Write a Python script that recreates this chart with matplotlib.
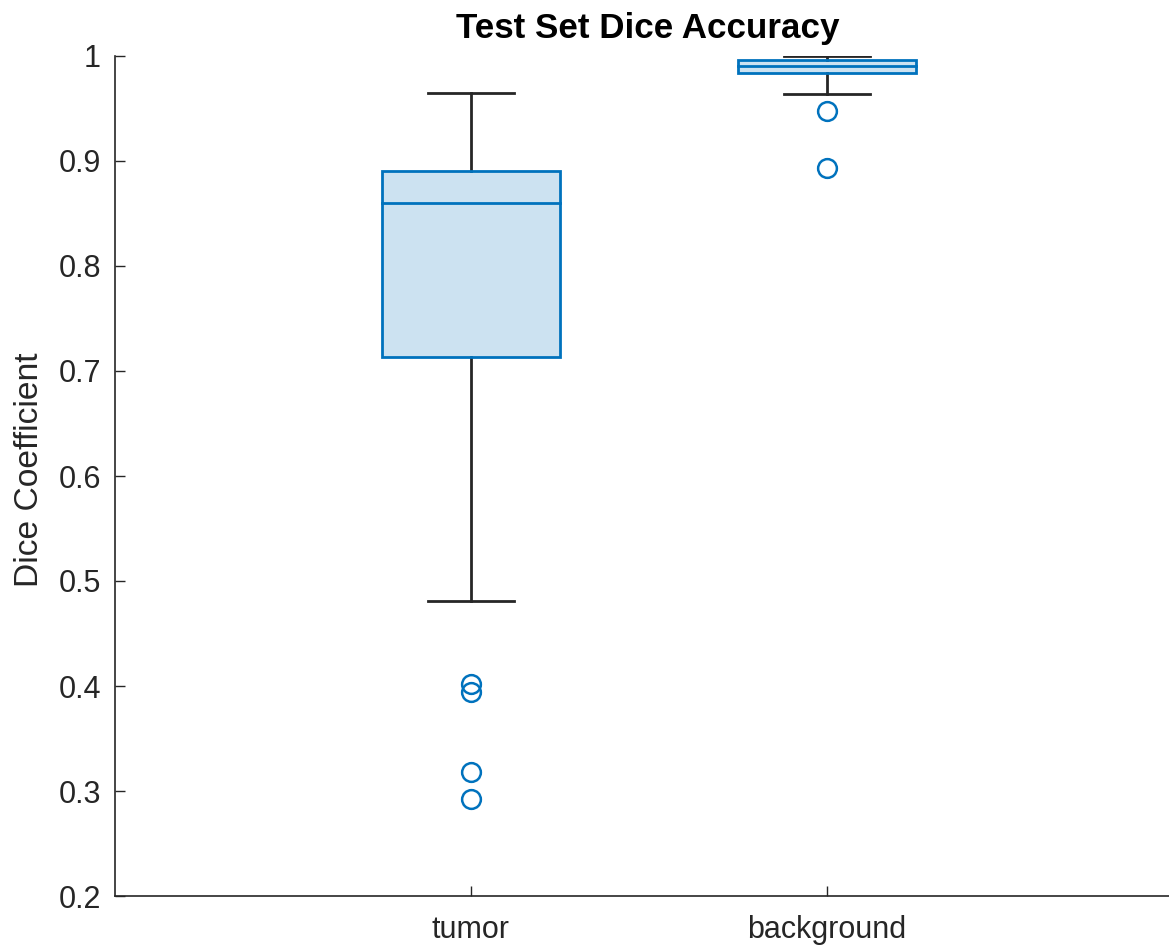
import matplotlib
matplotlib.use("Agg")
import matplotlib.pyplot as plt
from matplotlib.patches import Rectangle

plt.rcParams['font.family'] = ['Liberation Sans', 'DejaVu Sans']

categories = ["tumor", "background"]
# five-number summaries: lower whisker, Q1, median, Q3, upper whisker
lower_whisker = [0.481, 0.964]
q1 = [0.713, 0.984]
median = [0.860, 0.990]
q3 = [0.890, 0.996]
upper_whisker = [0.965, 1.000]
outliers = [[0.402, 0.394, 0.318, 0.292], [0.948, 0.893]]

y_ticks = [0.2, 0.3, 0.4, 0.5, 0.6, 0.7, 0.8, 0.9, 1.0]
y_tick_labels = ["0.2", "0.3", "0.4", "0.5", "0.6", "0.7", "0.8", "0.9", "1"]

blue = "#0072BD"
dark = "#262626"

fig = plt.figure(figsize=(11.69, 9.46), dpi=100)
ax = fig.add_axes([115 / 1169, 50 / 946, (1183 - 115) / 1169, (896 - 56) / 946])

box_w = 0.5
cap_w = 0.24
for i, cat in enumerate(categories):
    x = i + 1
    # whiskers and caps
    ax.plot([x, x], [q3[i], upper_whisker[i]], color=dark, lw=2, zorder=2)
    ax.plot([x, x], [lower_whisker[i], q1[i]], color=dark, lw=2, zorder=2)
    ax.plot([x - cap_w / 2, x + cap_w / 2], [upper_whisker[i]] * 2, color=dark, lw=2, zorder=2)
    ax.plot([x - cap_w / 2, x + cap_w / 2], [lower_whisker[i]] * 2, color=dark, lw=2, zorder=2)
    # box
    ax.add_patch(Rectangle((x - box_w / 2, q1[i]), box_w, q3[i] - q1[i],
                           facecolor=blue, alpha=0.2, edgecolor="none", zorder=3))
    ax.add_patch(Rectangle((x - box_w / 2, q1[i]), box_w, q3[i] - q1[i],
                           facecolor="none", edgecolor=blue, lw=2, zorder=4))
    ax.plot([x - box_w / 2, x + box_w / 2], [median[i]] * 2, color=blue, lw=2, zorder=4)
    # outliers
    ax.plot([x] * len(outliers[i]), outliers[i], linestyle="none", marker="o",
            markersize=13.5, markerfacecolor="none", markeredgecolor=blue,
            markeredgewidth=1.8, zorder=5)

ax.set_xlim(0, 3)
ax.set_ylim(0.2, 1.0)
ax.set_xticks([1, 2])
ax.set_xticklabels(categories)
ax.set_yticks(y_ticks)
ax.set_yticklabels(y_tick_labels)
ax.tick_params(direction="in", length=7, width=1, colors=dark, labelsize=22, pad=10)
ax.tick_params(axis="x", pad=14)
for side in ["top", "right"]:
    ax.spines[side].set_visible(False)
for side in ["left", "bottom"]:
    ax.spines[side].set_color(dark)
    ax.spines[side].set_linewidth(1.2)

ax.set_ylabel("Dice Coefficient", fontsize=24.2, color=dark)
ax.yaxis.set_label_coords((45 - 115) / 1068, 0.507)
fig.text(648 / 1169, 1 - 38 / 946, "Test Set Dice Accuracy", ha="center", va="baseline",
         fontsize=25.2, fontweight="bold", color="black")

fig.savefig("out.png", dpi=100)
